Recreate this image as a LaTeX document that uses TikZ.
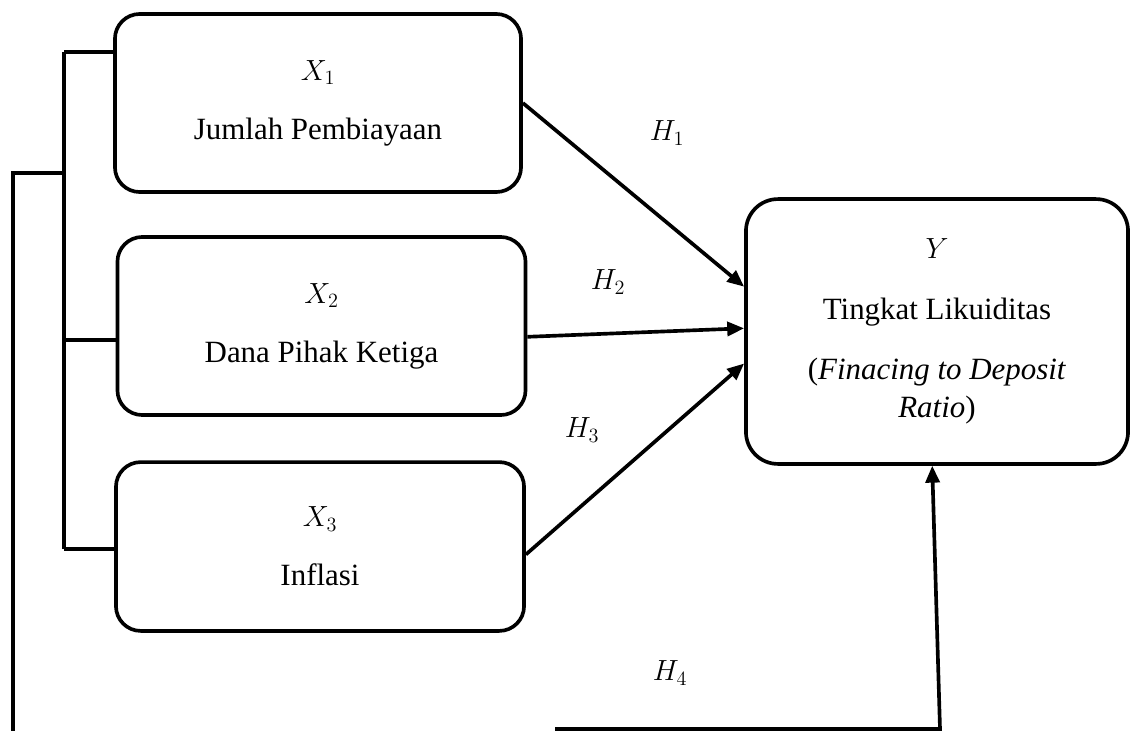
\documentclass[tikz,border=0pt]{standalone}
\usepackage{fontspec}
\setmainfont{Liberation Serif}
\usetikzlibrary{arrows.meta}

\begin{document}
\begin{tikzpicture}[x=0.025cm, y=-0.025cm,
    line width=2.6pt,
    varbox/.style={draw, rounded corners=0.62cm, align=center,
      font=\fontsize{22}{27}\selectfont, inner sep=0pt},
    hyp/.style={-{Triangle[length=12pt,width=10pt]}},
    hlabel/.style={font=\fontsize{22}{27}\selectfont}]
  \useasboundingbox (0,0) rectangle (1133,731);
  % variabel bebas dan terikat
  \node[varbox, minimum width=10.15cm, minimum height=4.45cm] (x1) at (318,103)
    {$X_1$\\[15pt] Jumlah Pembiayaan};
  \node[varbox, minimum width=10.2cm, minimum height=4.45cm] (x2) at (321.5,326)
    {$X_2$\\[15pt] Dana Pihak Ketiga};
  \node[varbox, minimum width=10.2cm, minimum height=4.22cm] (x3) at (320,546.5)
    {$X_3$\\[15pt] Inflasi};
  \node[varbox, rounded corners=0.8cm, minimum width=9.55cm, minimum height=6.62cm] (y) at (937,331.5)
    {$Y$\\[16pt] Tingkat Likuiditas\\[16pt] (\textit{Finacing to Deposit}\\ \textit{Ratio})};
  % label hipotesis
  \node[hlabel] (h1) at (667,133) {$H_1$};
  \node[hlabel] (h2) at (608,282) {$H_2$};
  \node[hlabel] (h3) at (582,430) {$H_3$};
  \node[hlabel] (h4) at (670,673) {$H_4$};
  % garis kurung kiri
  \coordinate (b1) at (64,52);
  \coordinate (b2) at (64,340);
  \coordinate (b3) at (64,549);
  \coordinate (o1) at (13,173);
  \coordinate (o2) at (13,731);
  \draw (b1) -- (b1 -| x1.west);
  \draw (b2) -- (b2 -| x2.west);
  \draw (b3) -- (b3 -| x3.west);
  \draw (b1) -- (b3);
  \draw (o2) -- (o1) -- (o1 -| b1);
  % panah hipotesis
  \draw[hyp] (x1.east) -- ([yshift=1.12cm]y.west);
  \draw[hyp] ([yshift=-0.27cm]x2.east) -- ([yshift=0.08cm]y.west);
  \draw[hyp] ([yshift=-0.2cm]x3.east) -- ([yshift=-0.8cm]y.west);
  \coordinate (f0) at (555,729);
  \coordinate (f1) at (940,729);
  \draw[hyp] (f0) -- (f1) -- ([xshift=-0.12cm]y.south);
\end{tikzpicture}
\end{document}
